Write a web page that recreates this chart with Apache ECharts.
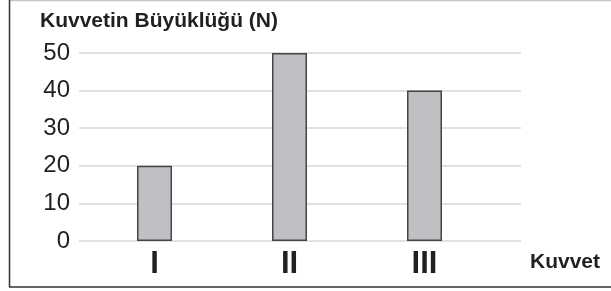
<!DOCTYPE html>
<html>
<head>
<meta charset="utf-8">
<script src="https://cdn.jsdelivr.net/npm/echarts@6/dist/echarts.min.js"></script>
<style>
html,body{margin:0;padding:0;background:#fff;}
#chart{width:611px;height:291px;}
</style>
</head>
<body>
<div id="chart"></div>
<script>
var kuvvetler = ['I', 'II', 'III'];
var buyukluk = [20, 50, 40];
var yMin = 0, yMax = 50, yStep = 10;

var chart = echarts.init(document.getElementById('chart'));
var font = '"Liberation Sans", Arial, sans-serif';
var ink = '#231f20';

option = {
    animation: false,
    grid: [
        // gridlines + y labels
        { left: 79, right: 90, top: 53, bottom: 50 },
        // bars
        { left: 87, right: 119, top: 53, bottom: 50 }
    ],
    xAxis: [
        { gridIndex: 0, type: 'value', show: false, min: 0, max: 1 },
        {
            gridIndex: 1,
            type: 'category',
            data: kuvvetler,
            axisLine: { show: false },
            axisTick: { show: false },
            axisLabel: {
                margin: 8,
                color: ink,
                fontFamily: font,
                fontWeight: 'bold',
                fontSize: 31
            }
        }
    ],
    yAxis: [
        {
            gridIndex: 0,
            type: 'value',
            min: yMin,
            max: yMax,
            interval: yStep,
            axisLine: { show: false },
            axisTick: { show: false },
            axisLabel: {
                margin: 9,
                color: ink,
                fontFamily: font,
                fontSize: 24
            },
            splitLine: { lineStyle: { color: '#e1e1e1', width: 2 } }
        },
        { gridIndex: 1, type: 'value', min: yMin, max: yMax, show: false }
    ],
    series: [{
        type: 'bar',
        xAxisIndex: 1,
        yAxisIndex: 1,
        data: buyukluk,
        barWidth: 35,
        itemStyle: {
            color: '#bfc0c4',
            borderColor: '#454545',
            borderWidth: 1.5
        }
    }],
    graphic: [
        { type: 'line', shape: { x1: 9, y1: 0.5, x2: 611, y2: 0.5 }, style: { stroke: '#c4c4c4', lineWidth: 1.5 } },
        { type: 'line', shape: { x1: 9.5, y1: 0, x2: 9.5, y2: 287 }, style: { stroke: '#333', lineWidth: 1.5 } },
        { type: 'line', shape: { x1: 9, y1: 287, x2: 611, y2: 287 }, style: { stroke: '#333', lineWidth: 1.5 } },
        {
            type: 'text', left: 40, top: 11,
            style: { text: 'Kuvvetin Büyüklüğü (N)', fill: ink, font: 'bold 21px ' + font }
        },
        {
            type: 'text', left: 530, top: 252,
            style: { text: 'Kuvvet', fill: ink, font: 'bold 21px ' + font }
        }
    ]
};

chart.setOption(option);
</script>
</body>
</html>
